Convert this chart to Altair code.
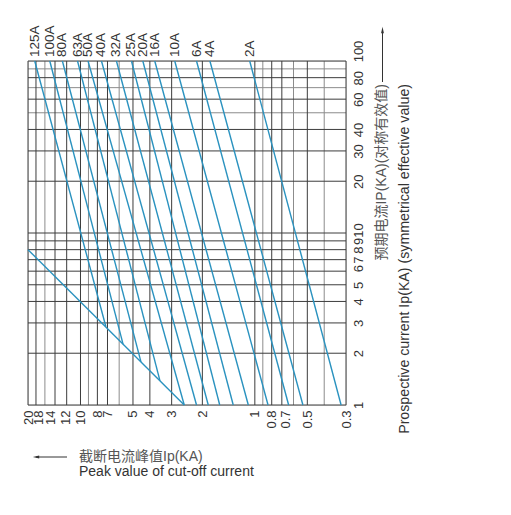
import altair as alt
import pandas as pd

# ---- data (kA) ----
ratings = ["125A", "100A", "80A", "63A", "50A", "40A", "32A", "25A",
           "20A", "16A", "10A", "6A", "4A", "2A"]
# cut-off peak at the top edge (prospective current 100 kA)
cut_top = [18.3, 15.0, 12.7, 10.4, 9.05, 7.58, 6.22, 5.10, 4.39, 3.75, 2.88, 2.16, 1.81, 1.07]
ip_top = [100, 100, 100, 100, 100, 100, 100, 100, 100, 100, 100, 100, 100, 100]
# lower end of each line (on the limit line or at 1 kA)
cut_end = [7.15, 5.7, 4.5, 3.5, 2.54, 2.16, 1.85, 1.59, 1.33, 1.09, 0.84, 0.64, 0.53, 0.32]
ip_end = [2.85, 2.26, 1.78, 1.38, 1.0, 1.0, 1.0, 1.0, 1.0, 1.0, 1.0, 1.0, 1.0, 1.0]

# limit (unlimited peak) line
limit_cut = [20, 2.54]
limit_ip = [8.0, 1.0]

# grid and tick labels
x_labels = [20, 18, 14, 12, 10, 8, 7, 5, 4, 3, 2, 1, 0.8, 0.7, 0.5, 0.3]
x_grid_dark = [20, 18, 14, 12, 10, 8, 7, 5, 4, 3, 2, 1, 0.8, 0.7, 0.5, 0.3]
x_grid_light = [16, 9, 6, 0.9, 0.6, 0.4]
y_labels = [1, 2, 3, 4, 5, 6, 7, 8, 9, 10, 20, 30, 40, 60, 80, 100]
y_grid_dark = [1, 2, 3, 4, 5, 6, 7, 8, 9, 10, 20, 30, 40, 60, 80, 100]
y_grid_light = [50, 70, 90]

title_bottom_cn = "截断电流峰值Ip(KA)"
title_bottom_en = "Peak value of cut-off current"
title_right_cn = "预期电流IP(KA)(对称有效值)"
title_right_en = "Prospective current Ip(KA) (symmetrical effective value)"

# ---- tables ----
lines_df = pd.DataFrame({
    "rating": ratings + ratings,
    "cutoff": cut_top + cut_end,
    "ip": ip_top + ip_end,
})
labels_df = pd.DataFrame({"rating": ratings, "cutoff": cut_top, "ip": ip_top})
limit_df = pd.DataFrame({"cutoff": limit_cut, "ip": limit_ip})

FONT = "Liberation Sans, Noto Sans CJK SC"
LINE_COLOR = "#2a92bf"

x_label_offset = {"condition": [
    {"test": "datum.value == 18", "value": 3},
    {"test": "datum.value == 14", "value": -5},
    {"test": "datum.value == 12", "value": -1},
    {"test": "datum.value == 0.7", "value": 4},
], "value": 0}
y_label_offset = {"condition": [
    {"test": "datum.value == 100", "value": -10},
    {"test": "datum.value == 10", "value": -3},
    {"test": "datum.value == 6", "value": -3},
], "value": 0}

xs = alt.Scale(type="log", domain=[0.3, 20], reverse=True, nice=False)
ys = alt.Scale(type="log", domain=[1, 100], nice=False)
xaxis = alt.Axis(values=x_labels, format="~g", labelAngle=270, labelAlign="right",
                 labelBaseline="middle", labelPadding=5, ticks=False, domain=False,
                 grid=False, title=None, labelOverlap=False, labelFlush=False,
                 labelOffset=x_label_offset,
                 labelFontSize=13, labelColor="#333", labelFont=FONT)
yaxis = alt.Axis(orient="right", values=y_labels, format="~g", labelAngle=270,
                 labelAlign="center", labelBaseline="top", labelPadding=6,
                 ticks=False, domain=False, grid=False, title=None,
                 labelOverlap=False, labelFlush=False, labelOffset=y_label_offset,
                 labelFontSize=13, labelColor="#333", labelFont=FONT)

X = alt.X("cutoff:Q", scale=xs, axis=xaxis)
Y = alt.Y("ip:Q", scale=ys, axis=yaxis)

vgrid_dark = alt.Chart(pd.DataFrame({"cutoff": x_grid_dark})).mark_rule(
    color="#3c3c3c", strokeWidth=1).encode(x=X)
vgrid_light = alt.Chart(pd.DataFrame({"cutoff": x_grid_light})).mark_rule(
    color="#8c8c8c", strokeWidth=1).encode(x=X)
hgrid_dark = alt.Chart(pd.DataFrame({"ip": y_grid_dark})).mark_rule(
    color="#3c3c3c", strokeWidth=1).encode(y=Y)
hgrid_light = alt.Chart(pd.DataFrame({"ip": y_grid_light})).mark_rule(
    color="#8c8c8c", strokeWidth=1).encode(y=Y)

fuse_lines = alt.Chart(lines_df).mark_line(color=LINE_COLOR, strokeWidth=1.4).encode(
    x=X, y=Y, detail="rating:N")
limit_line = alt.Chart(limit_df).mark_line(color=LINE_COLOR, strokeWidth=1.4).encode(x=X, y=Y)

top_labels = alt.Chart(labels_df).mark_text(
    angle=270, align="left", baseline="middle", dx=4, fontSize=13.5,
    color="#333", font=FONT).encode(x=X, y=Y, text="rating:N")

one = pd.DataFrame({"a": [0]})
t_bcn = alt.Chart(one).mark_text(align="left", baseline="middle", fontSize=14,
                                 color="#555", font=FONT).encode(
    x=alt.value(51), y=alt.value(396), text=alt.value(title_bottom_cn))
t_ben = alt.Chart(one).mark_text(align="left", baseline="middle", fontSize=14,
                                 color="#333", font=FONT).encode(
    x=alt.value(51), y=alt.value(411), text=alt.value(title_bottom_en))
t_rcn = alt.Chart(one).mark_text(angle=270, align="right", baseline="middle", fontSize=14,
                                 color="#555", font=FONT).encode(
    x=alt.value(354), y=alt.value(23), text=alt.value(title_right_cn))
t_ren = alt.Chart(one).mark_text(angle=270, align="right", baseline="middle", fontSize=14.2,
                                 color="#333", font=FONT).encode(
    x=alt.value(377), y=alt.value(23), text=alt.value(title_right_en))

arrow_b = alt.Chart(one).mark_rule(color="#333", strokeWidth=1).encode(
    x=alt.value(8), x2=alt.value(39), y=alt.value(396))
head_b = alt.Chart(one).mark_point(shape="M-1,0L1,-0.45L1,0.45Z", filled=True,
                                   size=40, color="#333", opacity=1).encode(
    x=alt.value(8), y=alt.value(396))
arrow_r = alt.Chart(one).mark_rule(color="#333", strokeWidth=1).encode(
    x=alt.value(354.5), x2=alt.value(354.5), y=alt.value(-31), y2=alt.value(21))
head_r = alt.Chart(one).mark_point(shape="M0,-1L-0.45,1L0.45,1Z", filled=True,
                                   size=40, color="#333", opacity=1).encode(
    x=alt.value(354.5), y=alt.value(-31))

chart = alt.layer(
    vgrid_light, hgrid_light, vgrid_dark, hgrid_dark,
    fuse_lines, limit_line, top_labels,
    t_bcn, t_ben, t_rcn, t_ren, arrow_b, head_b, arrow_r, head_r,
).properties(
    width=318, height=344,
    autosize=alt.AutoSizeParams(type="none"),
    padding={"left": 20, "top": 53, "right": 150, "bottom": 95},
).configure_view(stroke=None).configure(background="white")

chart.save("out.html", embed_options={"renderer": "svg", "actions": False})
